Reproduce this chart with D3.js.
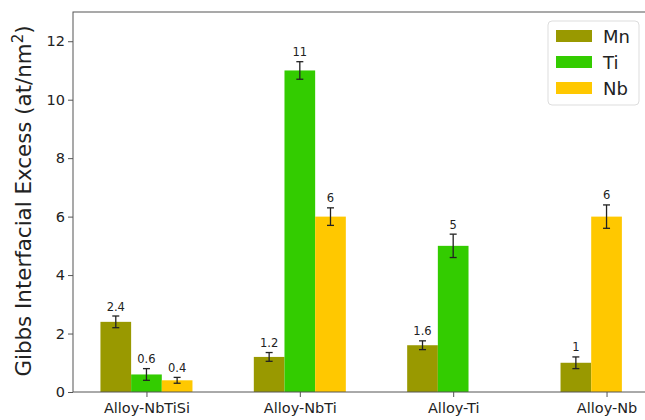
<!DOCTYPE html>
<html>
<head>
<meta charset="utf-8">
<script src="https://cdn.jsdelivr.net/npm/d3@7/dist/d3.min.js"></script>
<style>
  html, body { margin: 0; padding: 0; background: #fff; }
  svg { display: block; font-family: "DejaVu Sans", sans-serif; }
</style>
</head>
<body>
<svg id="chart" width="645" height="420"></svg>
<script>
// Gibbs interfacial excess per alloy, with error bars
const categories = ["Alloy-NbTiSi", "Alloy-NbTi", "Alloy-Ti", "Alloy-Nb"];
const seriesNames = ["Mn", "Ti", "Nb"];
const seriesColors = ["#999900", "#33cc00", "#ffc800"];

const mnValues = [2.4, 1.2, 1.6, 1];
const mnErrors = [0.2, 0.15, 0.15, 0.2];
const tiValues = [0.6, 11, 5, null];
const tiErrors = [0.2, 0.3, 0.4, null];
const nbValues = [0.4, 6, null, 6];
const nbErrors = [0.1, 0.3, null, 0.4];

const yTicks = [0, 2, 4, 6, 8, 10, 12];

const values = [mnValues, tiValues, nbValues];
const errors = [mnErrors, tiErrors, nbErrors];

const svg = d3.select("#chart");
const plot = { left: 73, right: 680, top: 12, bottom: 392 };

const x = d3.scalePoint()
  .domain(categories)
  .range([plot.left, plot.right])
  .padding(0.479);
const barW = x.step() * 0.2;

const y = d3.scaleLinear().domain([0, 13]).range([plot.bottom, plot.top]);

// Flatten into bar records; bars present in a group sit side by side,
// the first one left of the group centre.
const bars = [];
categories.forEach((cat, gi) => {
  let slot = -1;
  seriesNames.forEach((s, si) => {
    const v = values[si][gi];
    if (v === null || v === undefined) return;
    bars.push({ cat, si, v, e: errors[si][gi], slot });
    slot += 1;
  });
});

const cx = d => x(d.cat) + d.slot * barW;

svg.append("g").selectAll("rect")
  .data(bars)
  .join("rect")
  .attr("x", d => cx(d) - barW / 2)
  .attr("y", d => y(d.v))
  .attr("width", barW)
  .attr("height", d => y(0) - y(d.v))
  .attr("fill", d => seriesColors[d.si]);

// error bars
const eg = svg.append("g").attr("stroke", "#222").attr("stroke-width", 1.3);
bars.forEach(d => {
  const xc = cx(d);
  const y1 = y(d.v + d.e), y2 = y(d.v - d.e);
  eg.append("line").attr("x1", xc).attr("x2", xc).attr("y1", y1).attr("y2", y2);
  eg.append("line").attr("x1", xc - 3.5).attr("x2", xc + 3.5).attr("y1", y1).attr("y2", y1);
  eg.append("line").attr("x1", xc - 3.5).attr("x2", xc + 3.5).attr("y1", y2).attr("y2", y2);
});

// value labels
svg.append("g").selectAll("text")
  .data(bars)
  .join("text")
  .attr("x", d => cx(d))
  .attr("y", d => y(d.v + d.e) - 5.5)
  .attr("text-anchor", "middle")
  .attr("font-size", 11.5)
  .attr("fill", "#222")
  .text(d => String(d.v));

// frame
svg.append("rect")
  .attr("x", plot.left).attr("y", plot.top)
  .attr("width", plot.right - plot.left).attr("height", plot.bottom - plot.top)
  .attr("fill", "none").attr("stroke", "#555").attr("stroke-width", 1);

// axes
const yAxis = svg.append("g")
  .attr("transform", `translate(${plot.left},0)`)
  .call(d3.axisLeft(y).tickValues(yTicks).tickSize(5).tickPadding(3));
const xAxis = svg.append("g")
  .attr("transform", `translate(0,${plot.bottom})`)
  .call(d3.axisBottom(x).tickSize(5).tickPadding(6));
[yAxis, xAxis].forEach(g => {
  g.select(".domain").remove();
  g.selectAll(".tick line").attr("stroke", "#555");
  g.selectAll(".tick text").attr("fill", "#222").attr("font-family", "DejaVu Sans, sans-serif");
});
yAxis.selectAll(".tick text").attr("font-size", 14.5);
xAxis.selectAll(".tick text").attr("font-size", 14.5);

// y label
const yl = svg.append("text")
  .attr("transform", `translate(31,${(plot.top + plot.bottom) / 2 - 1}) rotate(-90)`)
  .attr("text-anchor", "middle")
  .attr("font-size", 21.4)
  .attr("fill", "#222");
yl.append("tspan").text("Gibbs Interfacial Excess (at/nm");
yl.append("tspan").attr("font-size", 15).attr("dy", -8.5).text("2");
yl.append("tspan").attr("dy", 8.5).text(")");

// legend
const lg = svg.append("g").attr("transform", "translate(548,21)");
lg.append("rect").attr("width", 91).attr("height", 84).attr("rx", 4)
  .attr("fill", "#fff").attr("fill-opacity", 0.8)
  .attr("stroke", "#ddd").attr("stroke-width", 1);
seriesNames.forEach((s, i) => {
  const row = lg.append("g").attr("transform", `translate(0,${15 + i * 26})`);
  row.append("rect").attr("x", 8).attr("y", -6).attr("width", 36).attr("height", 12)
    .attr("fill", seriesColors[i]);
  row.append("text").attr("x", 55).attr("y", 6.5)
    .attr("font-size", 18).attr("fill", "#222").text(s);
});
</script>
</body>
</html>
